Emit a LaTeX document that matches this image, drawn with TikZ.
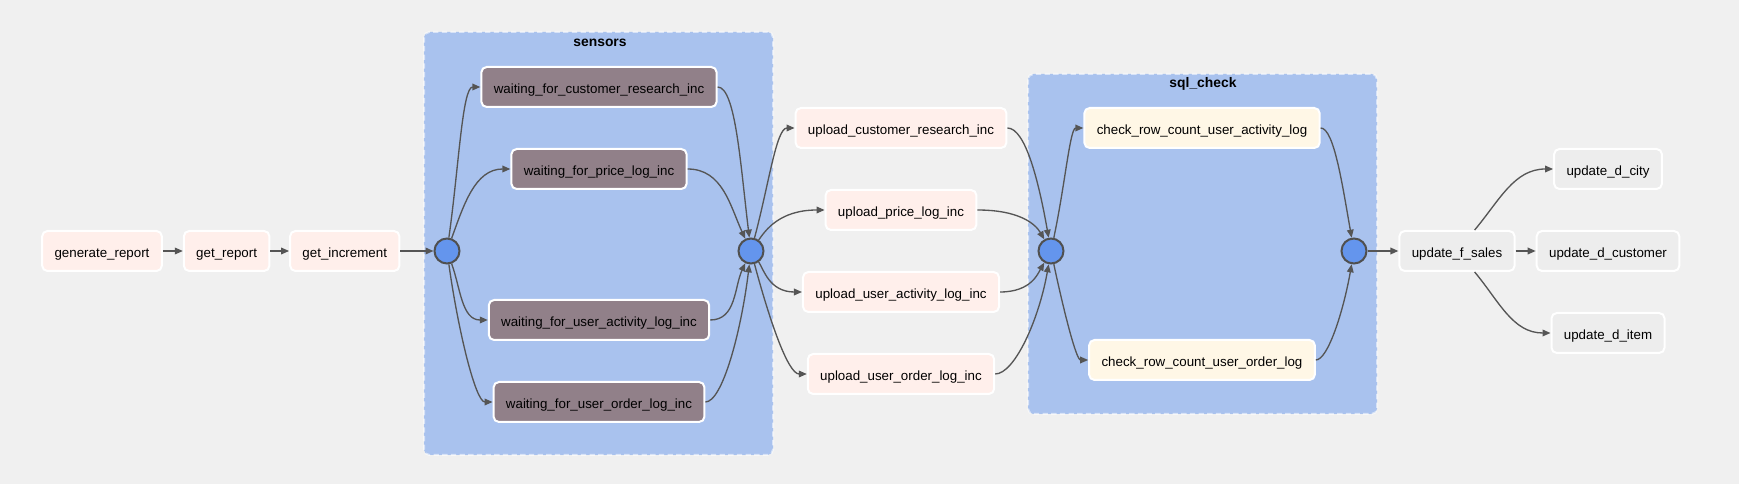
\documentclass[tikz,border=0pt]{standalone}
\usepackage{fontspec}
\setmainfont{Liberation Sans}
\usetikzlibrary{arrows.meta,positioning}
\definecolor{canvas}{HTML}{F0F0F0}
\definecolor{groupblue}{HTML}{A9C2EE}
\definecolor{pyfill}{HTML}{FFEFEB}
\definecolor{sensorfill}{HTML}{918089}
\definecolor{checkfill}{HTML}{FFF7E6}
\definecolor{pgfill}{HTML}{EDEDED}
\definecolor{joinfill}{HTML}{6495ED}
\definecolor{joinline}{HTML}{505050}
\definecolor{edgegray}{HTML}{555555}

\begin{document}
\begin{tikzpicture}[
    x=0.75pt, y=-0.75pt,
    task/.style={draw=white, line width=1.5pt, rounded corners=4pt, minimum height=30pt,
      inner xsep=9.3pt, inner ysep=0pt, text height=9.4pt, text depth=0pt,
      text=black, font=\fontsize{10}{12}\selectfont},
    pyop/.style={task, fill=pyfill},
    sensor/.style={task, fill=sensorfill},
    checkop/.style={task, fill=checkfill},
    pgop/.style={task, fill=pgfill},
    joinpt/.style={circle, draw=joinline, line width=1.5pt, fill=joinfill, minimum size=18.75pt, inner sep=0pt},
    tgroup/.style={fill=groupblue, draw=white, draw opacity=0.55, line width=1.5pt,
      dash pattern=on 4pt off 2.5pt, rounded corners=4pt},
    grouptitle/.style={font=\bfseries\fontsize{10.4}{12}\selectfont, text=black},
    flow/.style={draw=edgegray, line width=1pt, -{Triangle[length=6pt,width=5pt]}}
  ]
    \fill[canvas] (0,0) rectangle (1739,484);
    \useasboundingbox (0,0) rectangle (1739,484);

    % task groups
    \draw[tgroup] (424,32) rectangle (773,455);
    \node[grouptitle] (sensorstitle) at (600,43) {sensors};
    \draw[tgroup] (1028,74) rectangle (1377,414);
    \node[grouptitle] (sqltitle) at (1203,84) {sql\_check};

    % extract
    \node[pyop] (generate) at (102,251) {generate\_report};
    \node[pyop, right=15pt of generate] (getreport) {get\_report};
    \node[pyop, right=14pt of getreport] (getinc) {get\_increment};

    % sensors
    \node[joinpt] (sensin) at (447,251) {};
    \node[joinpt] (sensout) at (751,251) {};
    \node[sensor] (wcr) at (599,87) {waiting\_for\_customer\_research\_inc};
    \node[sensor] (wpl) at (599,169) {waiting\_for\_price\_log\_inc};
    \node[sensor] (wua) at (599,320) {waiting\_for\_user\_activity\_log\_inc};
    \node[sensor] (wuo) at (599,402) {waiting\_for\_user\_order\_log\_inc};

    % uploads
    \node[pyop] (ucr) at (901,128) {upload\_customer\_research\_inc};
    \node[pyop] (upl) at (901,210) {upload\_price\_log\_inc};
    \node[pyop] (uua) at (901,292) {upload\_user\_activity\_log\_inc};
    \node[pyop] (uuo) at (901,374) {upload\_user\_order\_log\_inc};

    % sql_check
    \node[joinpt] (sqlin) at (1051,251) {};
    \node[joinpt] (sqlout) at (1354,251) {};
    \node[checkop] (cua) at (1202,128) {check\_row\_count\_user\_activity\_log};
    \node[checkop] (cuo) at (1202,360) {check\_row\_count\_user\_order\_log};

    % load
    \node[pgop] (fsales) at (1457,251) {update\_f\_sales};
    \node[pgop] (dcity) at (1608,169) {update\_d\_city};
    \node[pgop] (dcustomer) at (1608,251) {update\_d\_customer};
    \node[pgop] (ditem) at (1608,333) {update\_d\_item};

    \draw[flow] (generate) -- (getreport);
    \draw[flow] (getreport) -- (getinc);
    \draw[flow] (getinc) -- (sensin);

    \draw[flow] (sensin) to[out=82, in=180, out looseness=1.2, in looseness=0.3] (wcr.west);
    \draw[flow] (sensin) to[out=70, in=180] (wpl.west);
    \draw[flow] (sensin) to[out=-70, in=180] (wua.west);
    \draw[flow] (sensin) to[out=-82, in=180, out looseness=1.2, in looseness=0.3] (wuo.west);

    \draw[flow] (wcr.east) to[out=0, in=97, out looseness=0.3, in looseness=1.2] (sensout);
    \draw[flow] (wpl.east) to[out=0, in=115] (sensout);
    \draw[flow] (wua.east) to[out=0, in=-115] (sensout);
    \draw[flow] (wuo.east) to[out=0, in=-97, out looseness=0.3, in looseness=1.2] (sensout);

    \draw[flow] (sensout) to[out=75, in=180, out looseness=1.2, in looseness=0.4] (ucr.west);
    \draw[flow] (sensout) to[out=55, in=180, out looseness=0.4, in looseness=1.6] (upl.west);
    \draw[flow] (sensout) to[out=-55, in=180, out looseness=0.4, in looseness=1.6] (uua.west);
    \draw[flow] (sensout) to[out=-75, in=180, out looseness=1.2, in looseness=0.4] (uuo.west);

    \draw[flow] (ucr.east) to[out=0, in=100, out looseness=0.4, in looseness=1.2] (sqlin);
    \draw[flow] (upl.east) to[out=0, in=120, out looseness=1.5, in looseness=0.6] (sqlin);
    \draw[flow] (uua.east) to[out=0, in=-120, out looseness=1.5, in looseness=0.6] (sqlin);
    \draw[flow] (uuo.east) to[out=0, in=-100, out looseness=0.4, in looseness=1.2] (sqlin);

    \draw[flow] (sqlin) to[out=78, in=180, out looseness=1.2, in looseness=0.3] (cua.west);
    \draw[flow] (sqlin) to[out=-78, in=180, out looseness=1.2, in looseness=0.3] (cuo.west);
    \draw[flow] (cua.east) to[out=0, in=100, out looseness=0.3, in looseness=1.2] (sqlout);
    \draw[flow] (cuo.east) to[out=0, in=-100, out looseness=0.3, in looseness=1.2] (sqlout);

    \draw[flow] (sqlout) -- (fsales);
    \draw[flow] (fsales.50) to[out=50, in=180] (dcity.west);
    \draw[flow] (fsales) -- (dcustomer);
    \draw[flow] (fsales.-50) to[out=-50, in=180] (ditem.west);
  \end{tikzpicture}
\end{document}
